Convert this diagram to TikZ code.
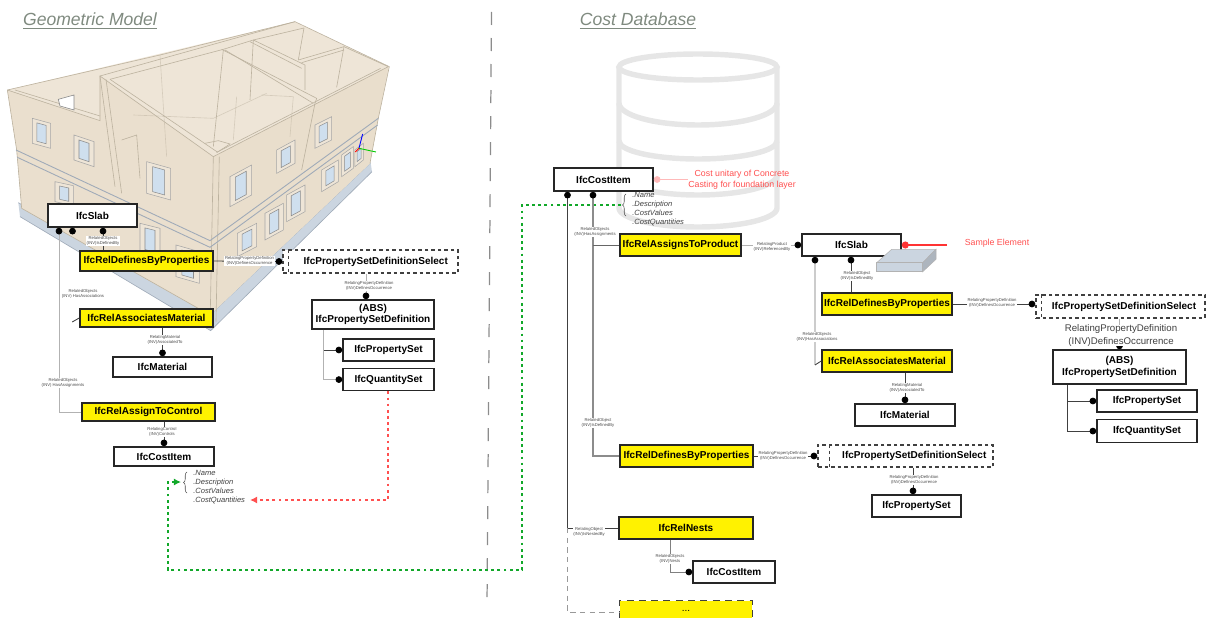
\documentclass[tikz,border=0pt]{standalone}
\usepackage{fontspec}
\setmainfont{Liberation Sans}
\usepackage{tikz}
\usetikzlibrary{positioning,shapes,arrows.meta,calc,decorations.pathreplacing}
\definecolor{titlegray}{HTML}{7F8A7F}
\definecolor{wallbeige}{HTML}{E9DECC}
\definecolor{wallpale}{HTML}{EEE5D7}
\definecolor{walledge}{HTML}{BDB3A0}
\definecolor{bandblue}{HTML}{9FAAB8}
\definecolor{plinthblue}{HTML}{CBD5E0}
\definecolor{glassblue}{HTML}{CFDFEE}
\definecolor{dbgray}{HTML}{E6E6E6}
\definecolor{notered}{HTML}{FF5050}
\definecolor{greenlink}{HTML}{12A82A}
\tikzset{
    ifcbox/.style={draw=black!85,fill=white,rectangle,line width=0.9pt,inner sep=0pt,align=center,font=\fontsize{5.7}{6.6}\selectfont\bfseries},
    relbox/.style={ifcbox,fill=yellow},
    selectbox/.style={ifcbox,draw=black!75,line width=0.8pt,dash pattern=on 2pt off 1.7pt},
    linklabel/.style={fill=white,inner sep=0.3pt,align=center,text=black!70,font=\fontsize{2.4}{2.9}\selectfont},
    attrlabel/.style={inner sep=0pt,align=left,text=black!75,font=\fontsize{4.3}{5.1}\selectfont\itshape},
    dark/.style={draw=black!75,line width=0.5pt},
    pale/.style={draw=black!30,line width=0.5pt},
    dotstart/.style={{Circle[length=3.8pt,black]}-},
    dotend/.style={-{Circle[length=3.8pt,black]}},
    wall/.style={draw=walledge,line width=0.35pt},
}
\begin{document}
\begin{tikzpicture}[x=0.02cm,y=-0.02cm]
    \useasboundingbox (0,0) rectangle (1207,618);
    % headings
    \node[text=titlegray,font=\fontsize{10}{12}\selectfont\itshape](geomtitle) at (90,21){\underline{Geometric Model}};
    \node[text=titlegray,font=\fontsize{10}{12}\selectfont\itshape](costtitle) at (638,21){\underline{Cost Database}};
    \coordinate (divtop) at (491.5,12);
    \coordinate (divbottom) at (487,606);
    \draw[black!45,line width=0.7pt,dash pattern=on 7.4pt off 7.4pt](divtop)--(divbottom);
    % database sign
    \begin{scope}[draw=dbgray,line width=3.1pt]
        \draw (698,67) ellipse (79 and 13);
        \draw (619,67)--(619,208) arc[start angle=180,end angle=0,x radius=79,y radius=19]--(777,67);
        \draw (619,103) arc[start angle=180,end angle=0,x radius=79,y radius=22];
        \draw (619,141) arc[start angle=180,end angle=0,x radius=79,y radius=18];
        \draw (619,175) arc[start angle=180,end angle=0,x radius=79,y radius=20];
    \end{scope}
    % building, numbers are three times the pixel
    \begin{scope}[x=0.02cm/3,y=-0.02cm/3]
        \fill[plinthblue](55,608)--(630,945)--(1112,488)--(1116,515)--(632,992)--(60,650)--cycle;
        \draw[bandblue,line width=0.35pt](55,608)--(630,945)--(1112,488);
        \draw[bandblue,line width=0.35pt](60,650)--(632,992)--(1116,515);
        \fill[wallpale](22,270)--(885,65)--(1168,200)--(1135,355)--(1110,490)--(630,945)--(65,625)--(50,450)--cycle;
        \fill[wallbeige,fill opacity=0.8](22,270)--(300,362)--(300,228)--(640,470)--(630,945)--(65,625)--(50,450)--cycle;
        \fill[wallbeige](640,470)--(1165,200)--(1135,355)--(1110,490)--(630,945)--cycle;
        \draw[wall](22,270)--(480,165)--(885,65)--(1168,200)--(1135,355)--(1110,490);
        \draw[wall](22,270)--(50,450)--(65,625)--(630,945);
        \draw[wall](22,270)--(300,362)--(300,228)--(740,105)--(885,65);
        \draw[wall](45,270)--(300,348);
        \draw[wall](300,228)--(640,470)--(1165,200);
        \draw[wall](330,238)--(652,456)--(1142,205);
        \draw[wall](330,238)--(670,148)--(760,120)--(912,84);
        \draw[wall](665,148)--(950,295)--(945,310)--(905,510);
        \draw[wall](675,150)--(940,310);
        \draw[wall](760,120)--(915,195)--(915,270);
        \draw[wall](750,125)--(905,205);
        \draw[wall](895,180)--(1032,140)--(1165,200);
        \draw[wall](905,188)--(1032,150);
        \draw[wall](912,84)--(895,180);
        \draw[wall](670,150)--(640,440);
        \draw[wall](760,120)--(750,300);
        \draw[wall](1032,140)--(1010,262);
        \draw[wall](615,430)--(655,422)--(690,432)--(650,458);
        \draw[wall](640,470)--(630,985);
        \draw[wall](658,470)--(648,965);
        \draw[wall](300,228)--(345,560);
        \draw[wall](318,238)--(365,580);
        \draw[wall](365,420)--(410,405)--(420,535);
        \draw[wall,opacity=0.5](480,165)--(500,470);
        \draw[wall,opacity=0.5](710,290)--(700,420);
        \draw[wall,opacity=0.5](785,285)--(880,290)--(870,410);
        \draw[wall,opacity=0.5](400,345)--(640,355)--(800,280);
        \draw[bandblue,line width=0.5pt](48,450)--(630,722)--(1135,355);
        \draw[bandblue,line width=0.5pt](52,472)--(630,742)--(1133,375);
        % windows: left corner, width, height, slope
        \foreach \wx/\wy/\ww/\wh/\ws in {97/355/55/75/15,222/405/60/75/20,440/485/72/95/20,165/545/55/60/12,420/670/60/85/15,528/735/70/95/20,690/530/65/90/-35,830/450/55/70/-30,945/375/50/70/-25,712/700/58/70/-30,795/640/55/80/-30,860/585/55/80/-30,965/510/50/65/-30,1025/465/35/65/-25,1065/450/25/50/-20}{
            \filldraw[draw=black!35,fill=wallpale,line width=0.3pt](\wx,\wy)--++(\ww,\ws)--++(0,\wh)--++(-\ww,-1*\ws)--cycle;
            \filldraw[draw=black!45,fill=glassblue,line width=0.3pt](\wx+0.25*\ww,\wy+0.25*\ws+10)--++(0.5*\ww,0.5*\ws)--++(0,\wh-20)--++(-0.5*\ww,-0.5*\ws)--cycle;
        }
        \filldraw[draw=black!45,fill=white,line width=0.35pt](175,298)--(222,285)--(222,330)--(180,318)--cycle;
        \draw[blue,line width=0.5pt](1088,402)--(1077,445);
        \draw[green!80!black,line width=0.5pt](1077,445)--(1128,456);
        \draw[red,line width=0.5pt](1077,445)--(1066,456);
    \end{scope}
    % geometric model
    \node[ifcbox,minimum width=1.78cm,minimum height=0.46cm](slabl) at (92.5,215.5){IfcSlab};
    \node[relbox,minimum width=2.66cm,minimum height=0.40cm](reldefl) at (146.5,261){IfcRelDefinesByProperties};
    \draw[dotstart,dark](slabl.south -| 103,0)--(reldefl.north -| 103,0);
    \node[linklabel](labslabl) at (103,241){RelatedObjects\\(INV)IsDefinedBy};
    \node[selectbox,minimum width=3.5cm,minimum height=0.46cm](selectl) at (370.5,261.5){\hspace{6pt}IfcPropertySetDefinitionSelect};
    \draw[dotend,dark](reldefl.east)--(selectl.west);
    \node[linklabel](labdefl) at (249.5,261){RelatingPropertyDefinition\\(INV)DefinesOccurrence};
    \node[ifcbox,minimum width=2.44cm,minimum height=0.58cm](absl) at (373,314.5){(ABS)\\IfcPropertySetDefinition};
    \draw[dotend,pale](selectl.south -| 366,0)--(absl.north -| 366,0);
    \node[linklabel](labsell) at (369,286){RelatingPropertyDefinition\\(INV)DefinesOccurrence};
    \node[ifcbox,minimum width=1.82cm,minimum height=0.44cm](psetl) at (388.5,350){IfcPropertySet};
    \node[ifcbox,minimum width=1.82cm,minimum height=0.44cm,below=0.12cm of psetl](qsetl){IfcQuantitySet};
    \draw[dotend,dark](absl.south -| 323,0) |- (psetl.west);
    \draw[dotend,pale](absl.south -| 323,0) |- (qsetl.west);
    \node[relbox,minimum width=2.66cm,minimum height=0.36cm](relmatl) at (146.5,318){IfcRelAssociatesMaterial};
    \node[ifcbox,minimum width=1.98cm,minimum height=0.40cm](materiall) at (162.5,367){IfcMaterial};
    \draw[dotend,dark](relmatl.south -| materiall.north)--(materiall.north);
    \node[linklabel](labmatl) at (165,340){RelatingMaterial\\(INV)AssociatedTo};
    \node[relbox,minimum width=2.66cm,minimum height=0.36cm](relctrl) at (148.5,412){IfcRelAssignToControl};
    \draw[dotstart,pale](slabl.south -| 59,0) |- (relctrl.west);
    \draw[dotstart,dark](slabl.south -| 72.5,0)--++(0,4);
    \draw[dark](relmatl.west)--++(-7,4);
    \node[linklabel](labassocl) at (83,294){RelatedObjects\\(INV) HasAssociations};
    \node[linklabel](labassignl) at (63,383){RelatedObjects\\(INV) HasAssignments};
    \node[ifcbox,minimum width=2cm,minimum height=0.38cm](costl) at (164,456.5){IfcCostItem};
    \draw[dotend,dark](relctrl.south -| costl.north)--(costl.north);
    \node[linklabel](labctrl) at (162,432){RelatingControl\\(INV)Controls};
    \node[attrlabel,anchor=north west](attrl) at (193,470){.Name\\.Description\\.CostValues\\.CostQuantities};
    \draw[black!70,line width=0.3pt,decorate,decoration={brace,amplitude=2pt}](187,493)--(187,472);
    \coordinate (redtip) at (250,500);
    \draw[notered,line width=0.8pt,dash pattern=on 1.6pt off 1.9pt,-{Latex[length=4pt,width=4pt]}](qsetl.south -| 388,0) |- (redtip);
    % cost database
    \node[ifcbox,minimum width=1.98cm,minimum height=0.46cm](costr) at (603.5,179.5){IfcCostItem};
    \node[text=notered,inner sep=0pt,align=center,font=\fontsize{5}{6.2}\selectfont](costnote) at (742,179.5){Cost unitary of Concrete\\Casting for foundation layer};
    \draw[-{Circle[length=3.8pt]},draw=notered!40,line width=0.5pt](costnote.west)--(costr.east);
    \node[attrlabel,anchor=north west](attrr) at (632,192){.Name\\.Description\\.CostValues\\.CostQuantities};
    \draw[black!70,line width=0.3pt,decorate,decoration={brace,amplitude=2pt}](626,216)--(626,194);
    \coordinate (greenroot) at (621,205);
    \coordinate (greentip) at (181,482);
    \draw[draw=greenlink,line width=0.8pt,dash pattern=on 1.6pt off 1.9pt,-{Latex[length=4pt,width=4pt]}](greenroot) -| (522,570) -| (168,482)--(greentip);
    \node[relbox,minimum width=2.42cm,minimum height=0.44cm](relprod) at (680.5,245){IfcRelAssignsToProduct};
    \node[relbox,minimum width=2.66cm,minimum height=0.44cm](reldefm) at (686.5,456){IfcRelDefinesByProperties};
    \draw[dotstart,draw=black!45,line width=0.7pt](costr.south -| 593,0) |- (reldefm.west);
    \draw[draw=black!60,line width=0.5pt](relprod.west -| 593,0)--(relprod.west);
    \node[linklabel](labprod) at (595,232){RelatedObjects\\(INV)HasAssignments};
    \node[linklabel](labdefm) at (598,423){RelatedObject\\(INV)IsDefinedBy};
    \node[ifcbox,minimum width=1.98cm,minimum height=0.44cm](slabr) at (851.5,245){IfcSlab};
    \draw[dotend,pale](relprod.east)--(slabr.west);
    \node[linklabel](labprodr) at (772,247){RelatingProduct\\(INV)ReferencedBy};
    \node[relbox,minimum width=2.6cm,minimum height=0.44cm](reldefr) at (887,304){IfcRelDefinesByProperties};
    \draw[dotstart,dark](slabr.south -| 851,0)--(reldefr.north -| 851,0);
    \node[linklabel](labslabr) at (857,276){RelatedObject\\(INV)IsDefinedBy};
    \node[relbox,minimum width=2.6cm,minimum height=0.44cm](relmatr) at (887,361){IfcRelAssociatesMaterial};
    \coordinate (bendr) at (815,365);
    \draw[dotstart,draw=black!20,line width=0.7pt](slabr.south -| 815,0)--(bendr);
    \draw[dark](bendr)--(relmatr.west);
    \node[linklabel](labassocr) at (817,337){RelatedObjects\\(INV)HasAssociations};
    \node[ifcbox,minimum width=2cm,minimum height=0.44cm](materialr) at (905,415){IfcMaterial};
    \draw[dotend,dark](relmatr.south -| materialr.north)--(materialr.north);
    \node[linklabel](labmatr) at (907,388){RelatingMaterial\\(INV)AssociatedTo};
    \node[selectbox,minimum width=3.38cm,minimum height=0.46cm](selectr) at (1120.5,306.5){\hspace{4pt}IfcPropertySetDefinitionSelect};
    \draw[dotend,dark](reldefr.east)--(selectr.west |- reldefr.east);
    \node[linklabel](labdefr) at (992,303){RelatingPropertyDefinition\\(INV)DefinesOccurrence};
    \node[ifcbox,minimum width=2.66cm,minimum height=0.68cm](absr) at (1119.5,367){(ABS)\\IfcPropertySetDefinition};
    \draw[dotend,pale](selectr.south -| absr.north)--(absr.north);
    \node[fill=white,inner sep=0pt,align=center,text=black!75,font=\fontsize{5.5}{7.3}\selectfont](labselr) at (1121,335.5){RelatingPropertyDefinition\\(INV)DefinesOccurrence};
    \node[ifcbox,minimum width=2cm,minimum height=0.44cm](psetr) at (1147,401){IfcPropertySet};
    \node[ifcbox,minimum width=2cm,minimum height=0.46cm,below=0.12cm of psetr](qsetr){IfcQuantitySet};
    \draw[dotend,dark](absr.south -| 1067,0) |- (psetr.west);
    \draw[dotend,dark](absr.south -| 1067,0) |- (qsetr.west);
    \node[selectbox,minimum width=3.5cm,minimum height=0.44cm](selectm) at (905.5,456){\hspace{10pt}IfcPropertySetDefinitionSelect};
    \draw[dotend,dark](reldefm.east)--(selectm.west);
    \node[linklabel](labdefm2) at (783,456){RelatingPropertyDefinition\\(INV)DefinesOccurrence};
    \node[ifcbox,minimum width=1.78cm,minimum height=0.44cm](psetm) at (916.5,506){IfcPropertySet};
    \draw[dotend,dark](selectm.south -| 913,0)--(psetm.north -| 913,0);
    \node[linklabel](labselm) at (914,480){RelatingPropertyDefinition\\(INV)DefinesOccurrence};
    \node[relbox,minimum width=2.68cm,minimum height=0.44cm](relnests) at (686,528){IfcRelNests};
    \draw[dotstart,dark](costr.south -| 567.5,0) |- (relnests.west);
    \node[linklabel](labnests) at (589,532){RelatingObject\\(INV)IsNestedBy};
    \node[ifcbox,minimum width=1.64cm,minimum height=0.44cm](costb) at (734,572){IfcCostItem};
    \draw[dotend,draw=black!50,line width=0.5pt](relnests.south -| 670,0) |- (costb.west);
    \node[linklabel](labcostb) at (670,559){RelatedObjects\\(INV)Nests};
    \node[fill=yellow,inner sep=0pt,minimum width=2.64cm,minimum height=0.34cm,font=\fontsize{5.7}{7.2}\selectfont](relmore) at (686,609.5){\raisebox{-2.5pt}{...}};
    \draw[draw=black!75,line width=0.9pt,dash pattern=on 4pt off 3pt](relmore.south west)--(relmore.north west)--(relmore.north east)--(relmore.south east);
    \coordinate (moretip) at (relmore.west |- 0,612);
    \draw[draw=black!40,line width=0.5pt,dash pattern=on 3pt off 2.5pt](relnests.west -| 567.5,0) |- (moretip);
    % sample slab
    \coordinate (sampleend) at (slabr.east -| 947,0);
    \draw[-{Circle[length=4pt]},draw=red!80,line width=0.6pt](sampleend)--(slabr.east);
    \node[text=notered,inner sep=0pt,font=\fontsize{5}{6}\selectfont](samplenote) at (997,243){Sample Element};
    \filldraw[draw=black!30,fill=plinthblue,line width=0.3pt](876.7,262.7)--(891.7,249.3)--(936,249.3)--(922.7,262.7)--cycle;
    \filldraw[draw=black!30,fill=plinthblue,line width=0.3pt](876.7,262.7)--(922.7,262.7)--(922.7,271.7)--(876.7,271.7)--cycle;
    \filldraw[draw=black!30,fill=black!15!plinthblue,line width=0.3pt](922.7,262.7)--(936,249.3)--(936,259.3)--(922.7,271.7)--cycle;
    % second dashed rule in the select boxes
    \foreach \sel/\gap in {selectl/6,selectr/6,selectm/12}{
        \draw[draw=black!75,line width=0.8pt,dash pattern=on 2pt off 1.7pt]($(\sel.north west)+(\gap,0)$)--($(\sel.south west)+(\gap,0)$);
    }
\end{tikzpicture}
\end{document}
